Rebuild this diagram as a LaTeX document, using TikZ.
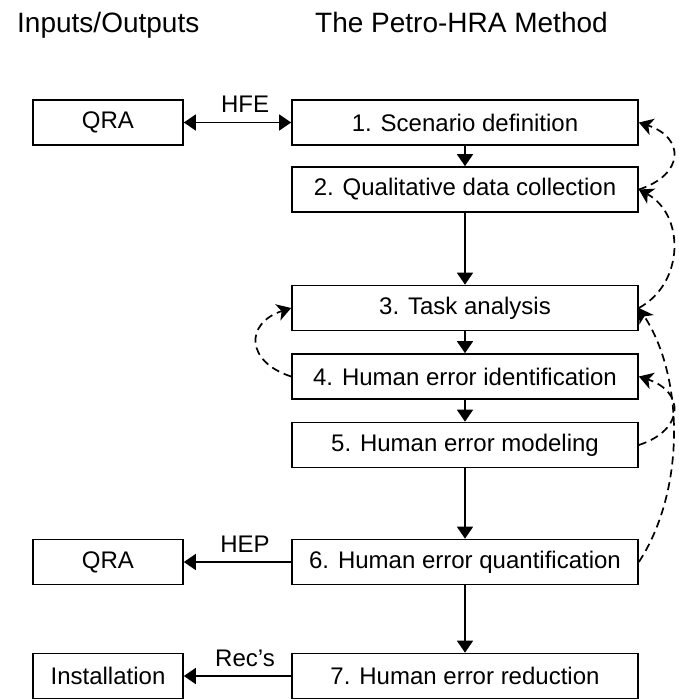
\documentclass[tikz,border=0pt]{standalone}
\usepackage{fontspec}
\setmainfont{Liberation Sans}
\usetikzlibrary{arrows.meta}
\begin{document}
\begin{tikzpicture}[x=1pt,y=-1pt,
  box/.style={draw, line width=1.7pt, minimum height=45pt, inner sep=0pt, font=\fontsize{24}{28}\selectfont},
  mainbox/.style={box, minimum width=346pt},
  sidebox/.style={box, minimum width=150pt},
  flow/.style={line width=1.7pt, -{Triangle[width=16pt,length=12pt]}},
  flow2/.style={line width=1.7pt, {Triangle[width=16pt,length=12pt]}-{Triangle[width=16pt,length=12pt]}},
  fb/.style={line width=1.7pt, dash pattern=on 8pt off 5pt, -{Stealth[width=17pt,length=14pt,inset=4pt]}},
  lbl/.style={font=\fontsize{24}{28}\selectfont, anchor=base, yshift=10pt, inner sep=0pt},
  title/.style={font=\fontsize{28}{32}\selectfont, anchor=base west, inner sep=0pt}]
\useasboundingbox (0,0) rectangle (678,699);

\node[title] (t1) at (17,32) {Inputs/Outputs};
\node[title] (t2) at (315,32) {The Petro-HRA Method};

\node[mainbox] (b1) at (465,122.5) {1. Scenario definition};
\node[mainbox] (b2) at (465,189.5) {2. Qualitative data collection};
\node[mainbox] (b3) at (465,308) {3. Task analysis};
\node[mainbox] (b4) at (465,376.5) {4. Human error identification};
\node[mainbox] (b5) at (465,445) {5. Human error modeling};
\node[mainbox] (b6) at (465,562) {6. Human error quantification};
\node[mainbox] (b7) at (465,676) {7. Human error reduction};

\node[sidebox] (q1) at (108,122.5) {QRA};
\node[sidebox] (q2) at (108,562) {QRA};
\node[sidebox] (q3) at (108,676) {Installation};

\draw[flow] (b1) -- (b2);
\draw[flow] (b2) -- (b3);
\draw[flow] (b3) -- (b4);
\draw[flow] (b4) -- (b5);
\draw[flow] (b5) -- (b6);
\draw[flow] (b6) -- (b7);

\draw[flow2] (q1.east) -- (b1.west) node[lbl, pos=0.57] {HFE};
\draw[flow] (b6.west) -- (q2.east) node[lbl, pos=0.43] {HEP};
\draw[flow] (b7.west) -- (q3.east) node[lbl, pos=0.43] {Rec’s};

\draw[fb] (b2.east) .. controls +(46,-15) and +(46,15) .. (b1.east);
\draw[fb] (b3.east) .. controls +(46,-25) and +(46,25) .. (b2.east);
\draw[fb] (b6.east) .. controls +(46,-70) and +(46,70) .. (b3.east);
\draw[fb] (b5.east) .. controls +(46,-15) and +(46,15) .. (b4.east);
\draw[fb] (b4.west) .. controls +(-46,-15) and +(-46,15) .. (b3.west);
\end{tikzpicture}
\end{document}
